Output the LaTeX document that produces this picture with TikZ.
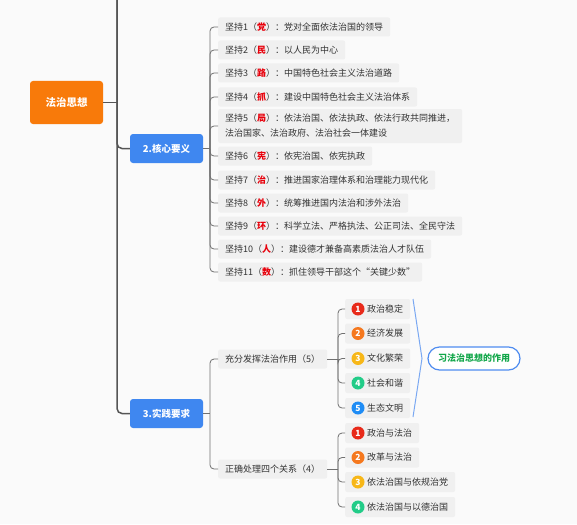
\documentclass[tikz,border=0pt]{standalone}
\usepackage{fontspec}
\setmainfont{Noto Sans CJK SC}
\definecolor{bgc}{HTML}{FAFAFA}
\definecolor{itemc}{HTML}{F0F0F0}
\definecolor{textc}{HTML}{333333}
\definecolor{hlred}{HTML}{E8000B}
\definecolor{rootc}{HTML}{F87A0A}
\definecolor{bluec}{HTML}{3F87F0}
\definecolor{trunkc}{HTML}{555555}
\definecolor{connc}{HTML}{707070}
\definecolor{sumc}{HTML}{7AA8F2}
\definecolor{pillc}{HTML}{4F8CF0}
\definecolor{pilltext}{HTML}{12A74A}
\definecolor{n1}{HTML}{E82A1A}
\definecolor{n2}{HTML}{F5781E}
\definecolor{n3}{HTML}{F7B718}
\definecolor{n4}{HTML}{22CC88}
\definecolor{n5}{HTML}{1E8CF5}
\newcommand\hlc[1]{{\bfseries\color{hlred}#1}}
\begin{document}
\begin{tikzpicture}[x=1pt,y=-1pt,
  item/.style={anchor=west, fill=itemc, rounded corners=2pt, inner xsep=7pt, inner ysep=0pt,
    minimum height=19pt, font=\fontsize{9}{15}\selectfont, text=textc},
  subitem/.style={item, minimum height=20pt},
  numc/.style={circle, minimum size=13pt, inner sep=0pt, text=white, font=\fontsize{8.5}{9}\selectfont\bfseries},
  topic/.style={fill=bluec, rounded corners=3pt, minimum width=73pt, minimum height=29pt, inner sep=0pt,
    text=white, font=\fontsize{9.5}{12}\selectfont\bfseries},
  trunk/.style={draw=trunkc, line width=1.5pt},
  conn/.style={draw=connc, line width=0.8pt, rounded corners=4pt},
]
\fill[bgc] (0,0) rectangle (577,524);
\useasboundingbox (0,0) rectangle (577,524);

% root and main topics
\node[topic, fill=rootc, minimum width=73pt, minimum height=43pt, font=\fontsize{10.5}{13}\selectfont\bfseries] (root) at (66.5,102.5) {法治思想};
\node[topic] (k2) at (166.5,148.5) {2.核心要义};
\node[topic] (k3) at (166.5,413.5) {3.实践要求};

\coordinate (ttop) at (117,0);
\coordinate (tr) at (117,102.5);
\draw[trunk] (root.east) -- (tr);
\draw[trunk, rounded corners=5pt] (ttop) |- (k2.west);
\draw[trunk, rounded corners=5pt] (ttop) |- (k3.west);

% core items
\node[item] (a1) at (218,27) {坚持1（\hlc{党}）：党对全面依法治国的领导};
\node[item] (a2) at (218,50) {坚持2（\hlc{民}）：以人民为中心};
\node[item] (a3) at (218,73) {坚持3（\hlc{路}）：中国特色社会主义法治道路};
\node[item] (a4) at (218,97) {坚持4（\hlc{抓}）：建设中国特色社会主义法治体系};
\node[item, align=left, minimum height=34pt] (a5) at (218,126) {坚持5（\hlc{局}）：依法治国、依法执政、依法行政共同推进，\\法治国家、法治政府、法治社会一体建设};
\node[item] (a6) at (218,156) {坚持6（\hlc{宪}）：依宪治国、依宪执政};
\node[item] (a7) at (218,180) {坚持7（\hlc{治}）：推进国家治理体系和治理能力现代化};
\node[item] (a8) at (218,203) {坚持8（\hlc{外}）：统筹推进国内法治和涉外法治};
\node[item] (a9) at (218,226) {坚持9（\hlc{环}）：科学立法、严格执法、公正司法、全民守法};
\node[item] (a10) at (218,249) {坚持10（\hlc{人}）：建设德才兼备高素质法治人才队伍};
\node[item] (a11) at (218,272) {坚持11（\hlc{数}）：抓住领导干部这个“关键少数”};

\coordinate (j2) at (210,148.5);
\draw[conn] (k2.east) -- (j2);
\foreach \i in {1,...,11} \draw[conn] (j2) |- (a\i.west);

% practice items
\node[item] (p1) at (218,359) {充分发挥法治作用（5）};
\node[item] (p2) at (218,469) {正确处理四个关系（4）};
\coordinate (j3) at (210,413.5);
\draw[conn] (k3.east) -- (j3);
\draw[conn] (j3) |- (p1.west);
\draw[conn] (j3) |- (p2.west);

% five roles
\node[subitem] (r1) at (345,309) {\hspace{15pt}政治稳定};
\node[subitem] (r2) at (345,333.5) {\hspace{15pt}经济发展};
\node[subitem] (r3) at (345,358.5) {\hspace{15pt}文化繁荣};
\node[subitem] (r4) at (345,383) {\hspace{15pt}社会和谐};
\node[subitem] (r5) at (345,408) {\hspace{15pt}生态文明};
\node[numc, fill=n1] (rc1) at ([xshift=13pt]r1.west) {1};
\node[numc, fill=n2] (rc2) at ([xshift=13pt]r2.west) {2};
\node[numc, fill=n3] (rc3) at ([xshift=13pt]r3.west) {3};
\node[numc, fill=n4] (rc4) at ([xshift=13pt]r4.west) {4};
\node[numc, fill=n5] (rc5) at ([xshift=13pt]r5.west) {5};
\coordinate (j31) at (338,359);
\draw[conn] (p1.east) -- (j31);
\foreach \i in {1,...,5} \draw[conn] (j31) |- (r\i.west);

% summary
\coordinate (s1) at (413,299);
\coordinate (s2) at (422,358.5);
\coordinate (s3) at (413,417);
\draw[draw=sumc, line width=1pt, line join=round] (s1) -- (s2) -- (s3);
\node[draw=pillc, line width=1.2pt, fill=white, rounded corners=11.5pt, minimum width=92pt, minimum height=23pt,
  inner sep=0pt, text=pilltext, font=\fontsize{9}{12}\selectfont\bfseries] (sum) at (474,358.5) {习法治思想的作用};

% four relations
\node[subitem] (q1) at (345,433) {\hspace{15pt}政治与法治};
\node[subitem] (q2) at (345,457.5) {\hspace{15pt}改革与法治};
\node[subitem] (q3) at (345,482) {\hspace{15pt}依法治国与依规治党};
\node[subitem] (q4) at (345,507) {\hspace{15pt}依法治国与以德治国};
\node[numc, fill=n1] (qc1) at ([xshift=13pt]q1.west) {1};
\node[numc, fill=n2] (qc2) at ([xshift=13pt]q2.west) {2};
\node[numc, fill=n3] (qc3) at ([xshift=13pt]q3.west) {3};
\node[numc, fill=n4] (qc4) at ([xshift=13pt]q4.west) {4};
\coordinate (j32) at (338,469);
\draw[conn] (p2.east) -- (j32);
\foreach \i in {1,...,4} \draw[conn] (j32) |- (q\i.west);
\end{tikzpicture}
\end{document}
